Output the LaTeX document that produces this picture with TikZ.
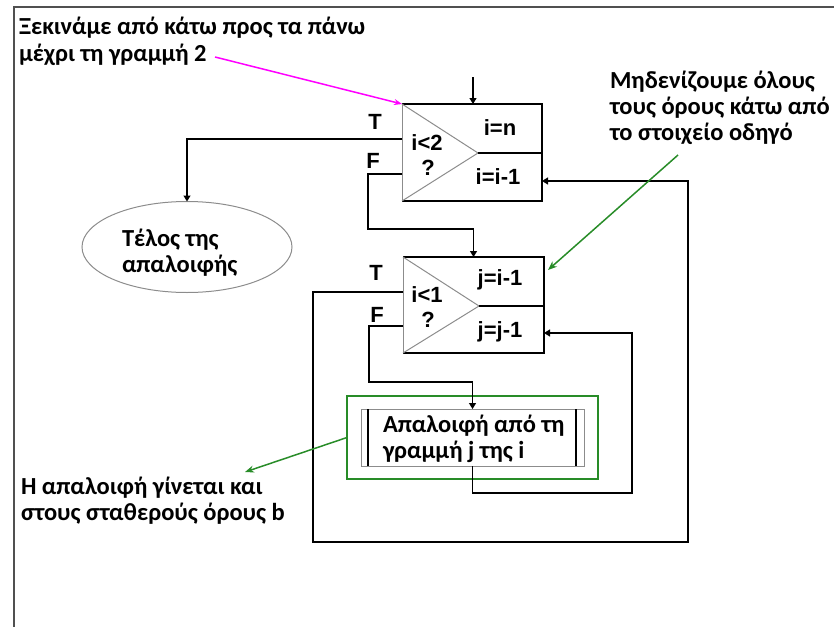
\documentclass[tikz,border=0pt]{standalone}
\usepackage{fontspec}
\setmainfont{Liberation Sans}
\newfontfamily\grk{Carlito}
\usetikzlibrary{shapes.geometric,arrows.meta}
\definecolor{framegray}{RGB}{80,80,80}
\definecolor{trigray}{RGB}{140,140,140}
\definecolor{notegreen}{RGB}{40,140,40}
\definecolor{notemag}{RGB}{255,0,255}
\begin{document}
\begin{tikzpicture}[x=1pt,y=-1pt,
  every node/.style={inner sep=0pt,outer sep=0pt},
  gfont/.style={font=\grk\bfseries\fontsize{24.5}{26}\selectfont},
  gtext/.style={gfont,align=left,anchor=base west},
  lab/.style={font=\bfseries\fontsize{22}{24}\selectfont},
  conn/.style={line width=1.2pt,black},
  arr/.style={conn,-{Triangle[length=6pt,width=7pt]}},
  tri/.style={line width=1pt,trigray},
  edge/.style={line width=1.5pt,black},
  gnote/.style={line width=1.5pt,notegreen,-{Stealth[length=9pt,width=7pt]}}
]
\useasboundingbox (0,0) rectangle (834,626);

% page frame
\draw[line width=2pt,framegray] (14,630) -- (14,7) -- (840,7);

% notes (anchored at the baseline of their last line)
\node[gtext] (n1) at (19,61) {Ξεκινάμε από κάτω προς τα πάνω\\μέχρι τη γραμμή 2};
\node[gtext] (n2) at (610,140) {Μηδενίζουμε όλους\\τους όρους κάτω από\\το στοιχείο οδηγό};
\node[gtext] (n3) at (21,520) {Η απαλοιφή γίνεται και\\στους σταθερούς όρους b};

% outer loop box (i)
\node[minimum width=140,minimum height=97,anchor=north west] (b1) at (402,104) {};
\coordinate (a1) at (478,153);
\draw[edge] (b1.north west) -- (b1.north east) -- (b1.south east) -- (b1.south west);
\draw[tri] (b1.north west) -- (b1.south west);
\draw[tri] (b1.north west) -- (a1) -- (b1.south west);
\draw[edge] (a1) -- (b1.east |- a1);
\node[lab] (b1a) at (500,128) {i=n};
\node[lab] (b1b) at (498,177) {i=i-1};
\node[lab] (b1c) at (427,143) {i<2};
\node[lab] (b1d) at (428,168) {?};
\node[lab] (b1T) at (375,122) {T};
\node[lab] (b1F) at (373,161) {F};

% inner loop box (j)
\node[minimum width=141,minimum height=96,anchor=north west] (b2) at (403,257) {};
\coordinate (a2) at (479,306);
\draw[edge] (b2.north west) -- (b2.north east) -- (b2.south east) -- (b2.south west);
\draw[tri] (b2.north west) -- (b2.south west);
\draw[tri] (b2.north west) -- (a2) -- (b2.south west);
\draw[edge] (a2) -- (b2.east |- a2);
\node[lab] (b2a) at (500,280) {j=i-1};
\node[lab] (b2b) at (500,332) {j=j-1};
\node[lab] (b2c) at (427,295) {i<1};
\node[lab] (b2d) at (428,320) {?};
\node[lab] (b2T) at (376,273) {T};
\node[lab] (b2F) at (377,315) {F};

% end of elimination
\node[ellipse,draw=trigray,line width=1pt,minimum width=210,minimum height=91] (endE) at (187,247) {};
\node[gtext] (endT) at (122,272) {Τέλος της\\απαλοιφής};

% elimination step
\node[draw=notegreen,line width=1.5pt,minimum width=251,minimum height=83,anchor=north west] (grp) at (347,396) {};
\node[draw=trigray,line width=0.8pt,minimum width=223,minimum height=57,anchor=north west] (proc) at (361,409) {};
\draw[edge] (368,409) -- (368,466);
\draw[edge] (576,409) -- (576,466);
\node[gtext] (procT) at (383,458) {Απαλοιφή από τη\\γραμμή j της i};

% ports
\coordinate (in1) at (473,77);
\coordinate (p1T) at (402,139);
\coordinate (p1F) at (402,174);
\coordinate (p1R) at (542,181);
\coordinate (p2T) at (403,292);
\coordinate (p2F) at (403,326);
\coordinate (p2R) at (544,333);
\coordinate (k1) at (368,229);
\coordinate (k2) at (369,382);
\coordinate (k3) at (313,542);
\coordinate (k4) at (632,493);

% connectors
\draw[arr] (in1) -- (in1 |- b1.north);
\draw[arr] (p1T) -| (endE.north);
\draw[arr] (p1F) -| (k1) -| (b2.north);
\draw[arr] (p2T) -| (k3) -| (688,181) -- (p1R);
\draw[arr] (p2F) -| (k2) -| (proc.north);
\draw[arr] (proc.south) |- (k4) |- (p2R);

% annotations
\draw[line width=1.5pt,notemag,-{Stealth[length=8pt,width=6pt]}] (215,57) -- (b1.north west);
\draw[gnote] (678,155) -- (548,270);
\draw[gnote] (grp.west) -- (245,472);
\end{tikzpicture}
\end{document}
